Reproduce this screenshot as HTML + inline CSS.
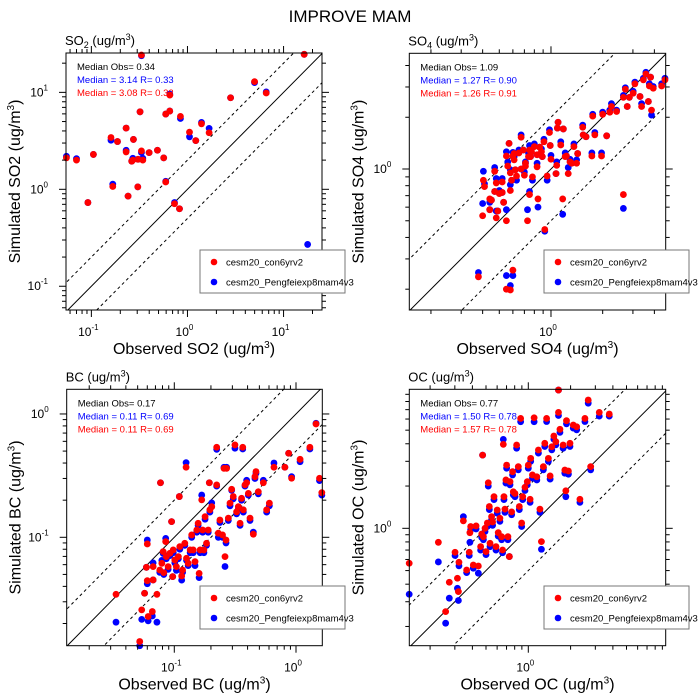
<!DOCTYPE html>
<html><head><meta charset="utf-8"><style>
html,body{margin:0;padding:0;background:#fff;overflow:hidden;width:700px;height:700px;}
svg{display:block;font-family:"Liberation Sans",Arial,sans-serif;}
</style></head><body>
<svg id="chart" width="700" height="700" viewBox="0 0 700 700">
<text x="350" y="22" text-anchor="middle" font-size="17">IMPROVE MAM</text>
</svg>
<script>
// ---- SO2 data ----
const so2Obs = [0.055,0.070,0.092,0.105,0.160,0.167,0.187,0.230,0.230,0.241,0.263,0.274,0.270,0.304,0.306,0.321,0.332,0.332,0.343,0.399,0.487,0.566,0.594,0.594,0.654,0.655,0.845,0.733,0.826,1.05,1.22,1.40,1.68,2.81,4.99,6.6,16.4,17.8];
const so2Red = [2.11,2.0,0.73,2.29,3.42,1.07,3.11,4.28,2.43,0.85,1.95,3.27,2.0,1.06,2.04,6.3,24.3,2.49,2.0,2.39,2.53,2.11,1.19,5.97,6.41,9.38,5.65,0.71,0.63,3.89,3.18,4.74,3.83,8.8,12.9,9.85,24.7,0.195];
const so2Blue = [2.19,2.07,0.73,2.29,3.21,1.13,3.11,4.28,2.53,0.85,1.95,3.27,2.09,1.06,2.04,6.3,23.9,2.40,2.09,2.39,2.53,2.11,1.21,5.97,6.41,9.6,5.38,0.73,0.63,3.48,3.18,4.9,4.25,8.8,12.6,10.1,24.7,0.27];
// ---- SO4 data ----
const so4Obs = [0.378,0.40,0.404,0.41,0.44,0.44,0.45,0.47,0.47,0.48,0.48,0.49,0.50,0.52,0.52,0.53,0.55,0.55,0.55,0.56,0.57,0.58,0.58,0.58,0.59,0.60,0.60,0.61,0.61,0.62,0.63,0.65,0.67,0.67,0.69,0.70,0.71,0.71,0.73,0.74,0.75,0.75,0.76,0.77,0.78,0.80,0.83,0.83,0.84,0.86,0.88,0.89,0.91,0.92,0.95,0.98,0.99,1.0,1.07,1.08,1.09,1.10,1.14,1.17,1.18,1.21,1.23,1.26,1.29,1.32,1.36,1.41,1.43,1.53,1.54,1.60,1.73,1.75,1.80,1.97,2.0,2.11,2.20,2.25,2.41,2.64,2.64,2.71,2.78,2.86,3.01,3.08,3.30,3.37,3.45,3.57,3.69,3.74,3.80,3.85,3.94,4.41,4.61];
const so4Red = [0.236,0.535,0.86,0.79,0.58,0.67,0.66,0.97,0.74,0.83,0.52,0.57,0.72,0.73,0.84,0.64,1.19,0.20,0.50,1.04,1.41,0.75,0.198,0.95,0.86,1.19,0.258,1.23,1.13,0.99,0.91,1.24,1.0,1.53,1.29,0.92,1.08,1.04,0.50,1.18,1.29,0.71,1.18,1.26,0.90,1.35,1.21,1.03,0.67,1.34,1.26,1.18,1.44,0.445,0.91,1.63,1.37,1.14,0.94,1.05,1.73,1.87,1.38,0.67,1.71,1.18,1.19,0.94,1.10,1.08,1.35,1.08,1.23,1.75,1.58,1.54,1.19,2.03,1.58,1.19,2.08,1.56,2.14,2.31,2.16,0.71,2.61,2.91,2.31,2.61,2.76,3.13,2.64,2.31,3.30,3.57,2.47,3.04,3.42,2.20,2.95,3.04,3.30];
const so4Blue = [0.25,0.63,0.97,0.82,0.58,0.64,0.66,1.02,0.74,0.88,0.57,0.57,0.75,0.73,0.88,0.64,1.26,0.24,0.58,1.10,1.41,0.81,0.21,0.99,0.86,1.25,0.24,1.23,1.18,0.99,0.86,1.29,1.0,1.58,1.29,0.96,1.08,1.10,0.58,1.24,1.37,0.74,1.18,1.31,0.86,1.40,1.21,1.08,0.60,1.34,1.31,1.18,1.49,0.435,0.86,1.69,1.37,1.20,0.94,1.10,1.73,1.87,1.44,0.545,1.71,1.24,1.19,1.02,1.14,1.08,1.40,1.13,1.23,1.80,1.58,1.54,1.24,2.08,1.63,1.24,2.14,1.56,2.20,2.40,2.20,0.59,2.68,2.97,2.31,2.61,2.83,3.20,2.64,2.40,3.37,3.65,2.47,3.13,3.42,2.06,3.02,3.13,3.37];
// ---- BC data ----
const bcObs = [0.0332,0.054,0.052,0.057,0.061,0.060,0.060,0.059,0.067,0.066,0.067,0.072,0.077,0.076,0.079,0.081,0.082,0.085,0.086,0.089,0.092,0.095,0.097,0.098,0.101,0.104,0.108,0.110,0.111,0.115,0.117,0.122,0.125,0.126,0.130,0.135,0.139,0.143,0.148,0.153,0.157,0.160,0.163,0.168,0.171,0.175,0.179,0.184,0.190,0.194,0.196,0.203,0.223,0.223,0.230,0.237,0.249,0.256,0.261,0.266,0.269,0.278,0.287,0.296,0.305,0.315,0.325,0.336,0.347,0.357,0.365,0.369,0.381,0.393,0.406,0.419,0.446,0.460,0.469,0.490,0.539,0.574,0.604,0.659,0.81,0.87,0.92,1.08,1.30,1.46,1.56,1.63];
const bcRed = [0.0345,0.0258,0.0143,0.0352,0.0228,0.0883,0.0445,0.0571,0.0578,0.0250,0.0451,0.0345,0.277,0.0543,0.0615,0.0765,0.0517,0.0922,0.0697,0.0578,0.0742,0.134,0.048,0.079,0.0655,0.0578,0.0697,0.214,0.084,0.0486,0.0543,0.0894,0.370,0.0676,0.0615,0.079,0.1045,0.079,0.0635,0.1146,0.130,0.051,0.079,0.201,0.1146,0.079,0.147,0.0894,0.1146,0.277,0.167,0.177,0.537,0.266,0.108,0.138,0.1045,0.362,0.0697,0.095,0.362,0.143,0.189,0.245,0.214,0.561,0.161,0.177,0.130,0.207,0.537,0.167,0.266,0.277,0.227,0.143,0.106,0.310,0.341,0.234,0.277,0.167,0.189,0.370,0.370,0.480,0.301,0.429,0.537,0.830,0.301,0.230];
const bcBlue = [0.0205,0.0216,0.0132,0.0352,0.0210,0.0950,0.0420,0.0571,0.0620,0.0230,0.0451,0.0205,0.277,0.0520,0.0650,0.0740,0.0500,0.0980,0.0670,0.0550,0.0710,0.134,0.048,0.075,0.0620,0.0540,0.0670,0.214,0.080,0.0450,0.0520,0.0860,0.403,0.0650,0.0590,0.075,0.1000,0.075,0.0590,0.1100,0.125,0.0471,0.075,0.220,0.1100,0.075,0.140,0.0860,0.1100,0.277,0.160,0.190,0.517,0.260,0.100,0.132,0.1000,0.370,0.0580,0.090,0.370,0.137,0.180,0.240,0.205,0.527,0.155,0.170,0.125,0.200,0.520,0.160,0.260,0.290,0.220,0.137,0.110,0.300,0.330,0.225,0.290,0.160,0.180,0.400,0.370,0.480,0.310,0.410,0.520,0.840,0.288,0.220];
// ---- OC data ----
const ocObs = [0.142,0.229,0.258,0.274,0.301,0.313,0.318,0.321,0.345,0.364,0.380,0.384,0.389,0.406,0.425,0.441,0.458,0.466,0.473,0.479,0.492,0.500,0.511,0.519,0.528,0.534,0.548,0.557,0.570,0.589,0.601,0.611,0.628,0.646,0.656,0.664,0.671,0.682,0.693,0.701,0.716,0.733,0.741,0.761,0.773,0.782,0.804,0.826,0.849,0.863,0.882,0.897,0.912,0.947,0.984,1.0,1.03,1.04,1.07,1.10,1.15,1.18,1.21,1.24,1.28,1.31,1.35,1.39,1.43,1.47,1.52,1.57,1.64,1.68,1.77,1.82,1.85,1.87,1.93,1.98,2.09,2.21,2.33,2.53,2.67,2.78,3.20,3.77,1.64];
const ocRed = [0.564,0.795,0.255,0.413,0.675,0.441,0.354,0.573,1.13,0.505,0.675,0.931,1.03,0.548,1.04,0.539,0.741,0.911,3.32,0.872,1.0,0.682,1.09,2.11,1.43,0.782,1.21,1.11,1.68,0.741,1.35,0.931,1.18,0.872,0.701,3.96,1.68,1.37,2.21,2.82,0.872,0.629,2.15,1.31,2.53,1.82,1.77,3.92,2.75,1.43,6.06,1.09,1.68,1.96,2.15,2.82,1.61,3.15,2.40,6.13,2.33,3.61,1.37,0.804,2.75,4.03,6.06,3.15,2.36,3.81,4.54,4.14,6.69,5.07,3.92,2.60,1.85,5.84,2.56,4.03,5.44,5.29,1.61,6.06,8.19,2.75,6.69,6.51,9.65];
const ocBlue = [0.339,0.576,0.211,0.318,0.640,0.374,0.306,0.540,1.21,0.484,0.640,0.795,0.98,0.520,0.99,0.479,0.700,0.860,3.32,0.830,0.95,0.650,1.03,2.00,1.36,0.740,1.15,1.05,1.60,0.700,1.28,0.880,1.12,0.830,0.670,4.30,1.60,1.30,2.10,2.68,0.830,0.629,2.04,1.25,2.40,1.73,1.68,3.72,2.61,1.36,5.74,1.03,1.60,1.86,2.04,2.68,1.53,3.00,2.28,5.74,2.21,3.43,1.30,0.709,2.61,3.83,5.76,3.00,2.24,3.62,4.31,3.93,6.36,4.82,3.72,2.47,1.68,5.55,2.43,3.83,5.17,5.03,1.53,5.76,7.78,2.61,6.30,6.30,9.65];

const NS = "http://www.w3.org/2000/svg";
const svg = document.getElementById('chart');
function mk(tag, attrs, parent) {
  const e = document.createElementNS(NS, tag);
  for (const k in attrs) e.setAttribute(k, attrs[k]);
  (parent || svg).appendChild(e);
  return e;
}

function panel(cfg, obs, red, blue) {
  const g = mk('g', {});
  
  
  const L = cfg.x0, R = cfg.x1, T = cfg.y0, B = cfg.y1;
  const sx = v => L + (Math.log10(v) - cfg.xr[0]) / (cfg.xr[1] - cfg.xr[0]) * (R - L);
  const sy = v => B - (Math.log10(v) - cfg.yr[0]) / (cfg.yr[1] - cfg.yr[0]) * (B - T);
  const cid = 'clip-' + cfg.id;
  const cp = mk('clipPath', {id: cid}, g);
  mk('rect', {x: L, y: T, width: R - L, height: B - T}, cp);

  const lo = Math.min(cfg.xr[0], cfg.yr[0]) - 1, hi = Math.max(cfg.xr[1], cfg.yr[1]) + 1;
  [[1, 'none', 'one-to-one-line'], [2, '3,3', 'factor-two-upper-line'], [0.5, '3,3', 'factor-two-lower-line']].forEach(([f, dash, nm]) => {
    const ln = mk('line', {x1: sx(Math.pow(10, lo)), y1: sy(f * Math.pow(10, lo)), x2: sx(Math.pow(10, hi)), y2: sy(f * Math.pow(10, hi)), stroke: '#000', 'stroke-width': 1, 'stroke-dasharray': dash, 'clip-path': 'url(#' + cid + ')'}, g);
    
    
  });

  for (let i = 0; i < obs.length; i++) {
    const c = mk('circle', {cx: sx(obs[i]), cy: sy(blue[i]), r: 3.4, fill: '#0000ff'}, g);
    
    
  }
  for (let i = 0; i < obs.length; i++) {
    const c = mk('circle', {cx: sx(obs[i]), cy: sy(red[i]), r: 3.4, fill: '#ff0000'}, g);
    
    
  }

  const fr = mk('rect', {x: L, y: T, width: R - L, height: B - T, fill: 'none', stroke: '#000', 'stroke-width': 1}, g);
  
  

  function ticks(range, axis) {
    for (let d = Math.floor(range[0]); d <= Math.ceil(range[1]); d++) {
      for (let m = 1; m < 10; m++) {
        const lv = d + Math.log10(m);
        if (lv < range[0] - 1e-6 || lv > range[1] + 1e-6) continue;
        const len = m === 1 ? 7 : 4;
        const v = Math.pow(10, lv);
        if (axis === 'x') {
          const x = sx(v);
          mk('line', {x1: x, y1: B, x2: x, y2: B + len, stroke: '#000'}, g);
          mk('line', {x1: x, y1: T, x2: x, y2: T - len, stroke: '#000'}, g);
          if (m === 1) {
            const t = mk('text', {x: x - 3, y: B + 26, 'text-anchor': 'middle', 'font-size': 12}, g);
            
            
            t.textContent = '10';
            const s = mk('tspan', {dy: -6, 'font-size': 8}, t); s.textContent = String(d);
          }
        } else {
          const y = sy(v);
          mk('line', {x1: L, y1: y, x2: L - len, y2: y, stroke: '#000'}, g);
          mk('line', {x1: R, y1: y, x2: R + len, y2: y, stroke: '#000'}, g);
          if (m === 1) {
            const t = mk('text', {x: L - 18, y: y + 4, 'text-anchor': 'end', 'font-size': 12}, g);
            
            
            t.textContent = '10';
            const s = mk('tspan', {dy: -6, 'font-size': 8}, t); s.textContent = String(d);
          }
        }
      }
    }
  }
  ticks(cfg.xr, 'x'); ticks(cfg.yr, 'y');

  const pt = mk('text', {x: L - 1, y: T - 8, 'font-size': 13}, g);
  
  
  pt.innerHTML = cfg.title;

  const xt = mk('text', {x: (L + R) / 2, y: B + 44, 'text-anchor': 'middle', 'font-size': 16}, g);
  
  
  xt.innerHTML = 'Observed ' + cfg.sp + ' (ug/m<tspan dy="-6" font-size="10">3</tspan><tspan dy="6">)</tspan>';
  const yc = (T + B) / 2, yx = L - 46;
  const yt = mk('text', {x: yx, y: yc, 'text-anchor': 'middle', 'font-size': 16, transform: 'rotate(-90 ' + yx + ' ' + yc + ')'}, g);
  
  
  yt.innerHTML = 'Simulated ' + cfg.sp + ' (ug/m<tspan dy="-6" font-size="10">3</tspan><tspan dy="6">)</tspan>';

  [[cfg.stats[0], '#000', 'median-obs-text'], [cfg.stats[1], '#0000ff', 'median-blue-text'], [cfg.stats[2], '#ff0000', 'median-red-text']].forEach(([s, col, nm], i) => {
    const t = mk('text', {x: L + 11, y: T + 17 + i * 13, 'font-size': 9.5, fill: col}, g);
    
    
    t.textContent = s;
  });

  const lg = mk('g', {}, g);
  
  
  const lx = cfg.lx, ly = cfg.ly;
  mk('rect', {x: lx, y: ly, width: 145, height: 43, fill: '#fff', stroke: '#777', 'stroke-width': 1}, lg);
  [['#ff0000', 'cesm20_con6yrv2', 12], ['#0000ff', 'cesm20_Pengfeiexp8mam4v3', 32]].forEach(([col, lab, dy]) => {
    const e = mk('g', {}, lg);
    
    
    mk('circle', {cx: lx + 14, cy: ly + dy, r: 3.3, fill: col}, e);
    const t = mk('text', {x: lx + 26, y: ly + dy + 3.5, 'font-size': 9.5}, e);
    t.textContent = lab;
  });
}

panel({id: 'so2', x0: 66, x1: 322, y0: 53, y1: 310, xr: [-1.264, 1.400], yr: [-1.245, 1.406],
  title: 'SO<tspan dy="3" font-size="9">2</tspan><tspan dy="-3"> (ug/m</tspan><tspan dy="-5" font-size="9">3</tspan><tspan dy="5">)</tspan>',
  sp: 'SO2', stats: ['Median Obs= 0.34', 'Median = 3.14 R= 0.33', 'Median = 3.08 R= 0.32'], lx: 200, ly: 250}, so2Obs, so2Red, so2Blue);
panel({id: 'so4', x0: 409.3, x1: 665.7, y0: 53.3, y1: 310, xr: [-0.825, 0.668], yr: [-0.82, 0.673],
  title: 'SO<tspan dy="3" font-size="9">4</tspan><tspan dy="-3"> (ug/m</tspan><tspan dy="-5" font-size="9">3</tspan><tspan dy="5">)</tspan>',
  sp: 'SO4', stats: ['Median Obs= 1.09', 'Median = 1.27 R= 0.90', 'Median = 1.26 R= 0.91'], lx: 544, ly: 250}, so4Obs, so4Red, so4Blue);
panel({id: 'bc', x0: 66.7, x1: 322.3, y0: 389.3, y1: 645.7, xr: [-1.884, 0.216], yr: [-1.879, 0.2],
  title: 'BC (ug/m<tspan dy="-5" font-size="9">3</tspan><tspan dy="5">)</tspan>',
  sp: 'BC', stats: ['Median Obs= 0.17', 'Median = 0.11 R= 0.69', 'Median = 0.11 R= 0.69'], lx: 200, ly: 586}, bcObs, bcRed, bcBlue);
panel({id: 'oc', x0: 409.3, x1: 665.7, y0: 389.3, y1: 645.7, xr: [-0.847, 0.978], yr: [-0.836, 0.99],
  title: 'OC (ug/m<tspan dy="-5" font-size="9">3</tspan><tspan dy="5">)</tspan>',
  sp: 'OC', stats: ['Median Obs= 0.77', 'Median = 1.50 R= 0.78', 'Median = 1.57 R= 0.78'], lx: 544, ly: 586}, ocObs, ocRed, ocBlue);
</script>
</body></html>
